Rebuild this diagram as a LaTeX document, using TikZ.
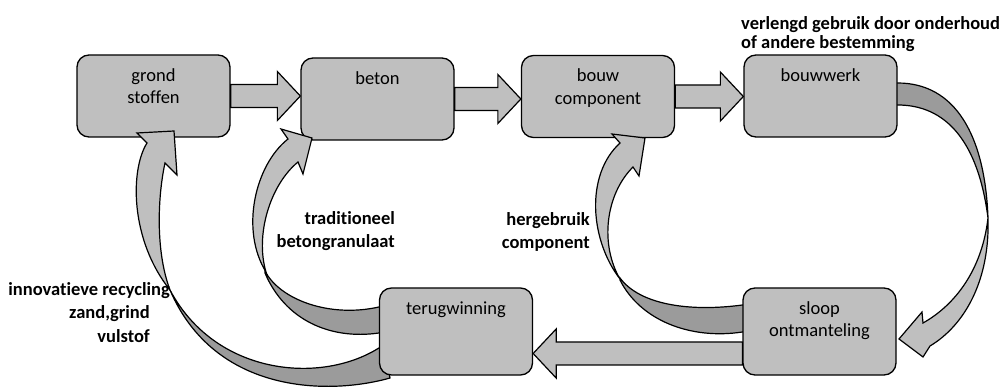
\documentclass[tikz,border=0pt]{standalone}
\usepackage{fontspec}
\setmainfont{Carlito}[Ligatures={NoCommon}]
\usepackage{tikz}
\usetikzlibrary{calc}
\definecolor{vakgrijs}{HTML}{BFBFBF}
\definecolor{ruggrijs}{HTML}{9B9B9B}
\pgfdeclarelayer{achter}
\pgfsetlayers{achter,main}

% dikke pijl van #1 naar de punt #2
\newcommand{\blokpijl}[2]{%
  \coordinate (bp-h) at ($(#2)!23pt!(#1)$);
  \filldraw[pijl] ($(#1)!11.5pt!90:(#2)$) -- ($(bp-h)!11.5pt!-90:(#1)$) -- ($(bp-h)!24.5pt!-90:(#1)$)
    -- (#2) -- ($(bp-h)!24.5pt!90:(#1)$) -- ($(bp-h)!11.5pt!90:(#1)$) -- ($(#1)!11.5pt!-90:(#2)$) -- cycle;}

\begin{document}
\begin{tikzpicture}[x=1pt,y=-1pt,
  vak/.style={draw, line width=1.3pt, fill=vakgrijs, rounded corners=12pt,
    minimum width=153pt, minimum height=82pt, inner sep=0pt},
  laagvak/.style={vak, minimum height=87pt},
  vaktekst/.style={anchor=north, yshift=-14pt, inner sep=0pt, align=center,
    font=\fontsize{18.5}{22.5}\selectfont, execute at begin node=\vphantom{bd}},
  pijl/.style={draw, line width=1.2pt, fill=vakgrijs, line join=miter},
  rug/.style={draw, line width=1.2pt, fill=ruggrijs},
  uitleg/.style={inner sep=0pt, font=\fontsize{18.5}{23.5}\selectfont\bfseries,
    execute at begin node=\vphantom{bd}}]
\useasboundingbox (0,0) rectangle (1005,390);

%%de blokken
\node[vak, label={[vaktekst]north:grond\\stoffen}] (grond) at (153.5,96) {};
\node[vak, label={[vaktekst]north:beton}] (beton) at (377.5,99) {};
\node[vak, label={[vaktekst]north:bouw\\component}] (bouw) at (598,96.5) {};
\node[vak, label={[vaktekst]north:bouwwerk}] (bouwwerk) at (820.5,96) {};
\node[laagvak, label={[vaktekst]north:terugwinning}] (terugwinning) at (456,331.5) {};
\node[laagvak, label={[vaktekst]north:sloop\\ontmanteling}] (sloop) at (819.5,331.5) {};

%%rechte pijlen
\coordinate (in-beton) at (grond.east -| beton.west);
\coordinate (in-bouw) at (beton.east -| bouw.west);
\coordinate (in-bouwwerk) at (bouw.east -| bouwwerk.west);
\coordinate (uit-sloop) at ([yshift=-22pt]sloop.west);
\coordinate (in-terug) at (uit-sloop -| terugwinning.east);
\blokpijl{grond.east}{in-beton}
\blokpijl{beton.east}{in-bouw}
\blokpijl{bouw.east}{in-bouwwerk}
\blokpijl{uit-sloop}{in-terug}

%%gebogen pijlen: achterkant (donker)
\begin{pgfonlayer}{achter}
\filldraw[rug] ($(bouwwerk.east)+(-5,-13)$) -- ($(bouwwerk.east)+(0,-13)$)
  .. controls (955,83) and (985,135) .. (988,218)
  .. controls (978,140) and (945,105) .. ($(bouwwerk.east)+(0,9)$) -- ($(bouwwerk.east)+(-5,9)$) -- cycle;
\filldraw[rug] ($(sloop.west)+(5,-26.5)$) -- ($(sloop.west)+(0,-26.5)$)
  .. controls (690,312) and (640,305) .. (620,278) -- (620,280)
  .. controls (640,320) and (690,340) .. ($(sloop.west)+(0,0.5)$) -- ($(sloop.west)+(5,0.5)$) -- cycle;
\filldraw[rug] ($(terugwinning.west)+(5,-24.5)$) -- ($(terugwinning.west)+(0,-24.5)$)
  .. controls (330,318) and (280,300) .. (265,271) -- (265,273)
  .. controls (285,320) and (330,340) .. ($(terugwinning.west)+(0,1.5)$) -- ($(terugwinning.west)+(5,1.5)$) -- cycle;
\filldraw[rug] ($(terugwinning.west)+(5,16.5)$) -- ($(terugwinning.west)+(0,16.5)$)
  .. controls (320,385) and (215,375) .. (170,290)
  .. controls (215,395) and (330,395) .. (390,378) -- cycle;
\end{pgfonlayer}

%%gebogen pijlen: voorkant met punt
\filldraw[pijl] (988,218) .. controls (990,280) and (965,325) .. (930,346) -- (923,357) -- (899,339)
  -- (922,312) -- (923,323) .. controls (955,305) and (982,270) .. (988,218) -- cycle;
\filldraw[pijl] (620,279) .. controls (590,240) and (585,175) .. (620,143) -- (612,134) -- (645,138)
  -- (639,176) -- (633,167) .. controls (605,195) and (600,245) .. (620,279) -- cycle;
\filldraw[pijl] (266,272) .. controls (240,230) and (255,165) .. (288,139) -- (281,129) -- (312,138)
  -- (303,174) -- (298,162) .. controls (270,185) and (255,235) .. (266,272) -- cycle;
\filldraw[pijl] (170,290) .. controls (130,240) and (130,170) .. (147,143) -- (137,133) -- (174,131)
  -- (177,175) -- (165,163) .. controls (158,195) and (155,250) .. (170,290) -- cycle;

%%vet gedrukte uitleg
\node[uitleg, anchor=north west, align=left, font=\fontsize{18.5}{19}\selectfont\bfseries] (onderhoud) at (741,16)
  {verlengd gebruik door onderhoud\\of andere bestemming};
\node[uitleg, anchor=north east, align=right] (traditioneel) at (395,211) {traditioneel\\betongranulaat};
\node[uitleg, anchor=north east, align=right] (hergebruik) at (590,212) {hergebruik\\component};
\node[uitleg, anchor=north east, align=right] (innovatief) at (170,282)
  {innovatieve recycling\\zand,grind\kern20pt\\vulstof\kern20pt};
\end{tikzpicture}
\end{document}
